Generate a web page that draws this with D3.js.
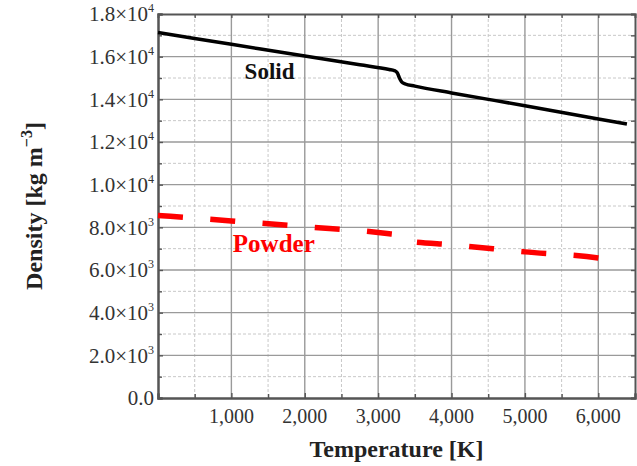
<!DOCTYPE html>
<html lang="en">
<head>
  <meta charset="UTF-8">
  <title>Density vs Temperature</title>
  <script src="https://d3js.org/d3.v7.min.js"></script>
  <style>
    body { margin: 0; background: #fff; }
    text { font-family: "Liberation Serif", "Times New Roman", serif; }
  </style>
</head>
<body>
  <div id="chart"></div>
  <script>
    // data
    const solidT   = [0, 1000, 2000, 2750, 3150, 3220, 3260, 3290, 3320, 3370, 3500, 4000, 5000, 6000, 6390];
    const solidRho = [17130, 16580, 16030, 15620, 15400, 15350, 15250, 15000, 14820, 14720, 14620, 14300, 13700, 13080, 12840];
    const powderT   = [0, 1000, 2000, 3000, 3150, 3220, 3260, 3290, 3320, 3370, 3500, 4000, 5000, 6000, 6070];
    const powderRho = [8560, 8300, 8030, 7760, 7700, 7670, 7620, 7500, 7410, 7360, 7310, 7180, 6850, 6560, 6520];
    const xTicks = [1000, 2000, 3000, 4000, 5000, 6000];
    const yTicks = [0, 2000, 4000, 6000, 8000, 10000, 12000, 14000, 16000, 18000];

    const W = 637, H = 466;
    const margin = { top: 14, right: 2, bottom: 68, left: 158 };
    const width = W - margin.left - margin.right;
    const height = H - margin.top - margin.bottom;

    const svg = d3.select("#chart").append("svg")
      .attr("width", W)
      .attr("height", H);
    const g = svg.append("g").attr("transform", `translate(${margin.left},${margin.top})`);

    const x = d3.scaleLinear().domain([0, 6500]).range([0, width]);
    const y = d3.scaleLinear().domain([0, 18000]).range([height, 0]);

    const xMinor = d3.range(500, 6500, 1000);
    const yMinor = d3.range(1000, 18000, 2000);

    //minor grid
    g.selectAll(".gx-minor").data(xMinor).enter().append("line")
      .attr("x1", d => x(d)).attr("x2", d => x(d))
      .attr("y1", 0).attr("y2", height)
      .attr("stroke", "#c8c8c8").attr("stroke-width", 1).attr("stroke-dasharray", "3,2");
    g.selectAll(".gy-minor").data(yMinor).enter().append("line")
      .attr("x1", 0).attr("x2", width)
      .attr("y1", d => y(d)).attr("y2", d => y(d))
      .attr("stroke", "#c8c8c8").attr("stroke-width", 1).attr("stroke-dasharray", "3,2");

    //major grid
    g.selectAll(".gx").data(xTicks).enter().append("line")
      .attr("x1", d => x(d)).attr("x2", d => x(d))
      .attr("y1", 0).attr("y2", height)
      .attr("stroke", "#9a9a9a").attr("stroke-width", 1.4);
    g.selectAll(".gy").data(yTicks.slice(1, -1)).enter().append("line")
      .attr("x1", 0).attr("x2", width)
      .attr("y1", d => y(d)).attr("y2", d => y(d))
      .attr("stroke", "#9a9a9a").attr("stroke-width", 1.4);

    //axes with inward ticks
    const ax = g.append("g").attr("transform", `translate(0,${height})`)
      .call(d3.axisBottom(x).tickValues(xTicks).tickSize(-5).tickFormat(""));
    const axMinor = g.append("g").attr("transform", `translate(0,${height})`)
      .call(d3.axisBottom(x).tickValues(xMinor).tickSize(-4).tickFormat(""));
    const axTop = g.append("g")
      .call(d3.axisTop(x).tickValues(xTicks.concat(xMinor)).tickSize(-4).tickFormat(""));
    const ay = g.append("g")
      .call(d3.axisLeft(y).tickValues(yTicks).tickSize(-5).tickFormat(""));
    const ayMinor = g.append("g")
      .call(d3.axisLeft(y).tickValues(yMinor).tickSize(-4).tickFormat(""));
    const ayRight = g.append("g").attr("transform", `translate(${width},0)`)
      .call(d3.axisRight(y).tickValues(yTicks.concat(yMinor)).tickSize(-4).tickFormat(""));
    [ax, axMinor, axTop, ay, ayMinor, ayRight].forEach(a => {
      a.select(".domain").attr("stroke", "#555").attr("stroke-width", 2);
      a.selectAll(".tick line").attr("stroke", "#555").attr("stroke-width", 1.4);
    });

    //x tick labels
    g.selectAll(".xlab").data(xTicks).enter().append("text")
      .attr("x", d => x(d))
      .attr("y", height + 25)
      .attr("text-anchor", "middle")
      .attr("font-size", "20px")
      .attr("fill", "#333")
      .text(d => d3.format(",")(d));

    //y tick labels like 1.8x10^4
    yTicks.forEach(v => {
      const t = g.append("text")
        .attr("x", -4)
        .attr("y", y(v))
        .attr("dy", "0.35em")
        .attr("text-anchor", "end")
        .attr("font-size", "21px")
        .attr("fill", "#333");
      if (v === 0) {
        t.text("0.0");
        return;
      }
      const e = v >= 10000 ? 4 : 3;
      t.append("tspan").text((v / Math.pow(10, e)).toFixed(1) + "\u00d710");
      t.append("tspan").attr("font-size", "12px").attr("dy", "-9").text(e);
    });

    //lines
    const line = d3.line().x(d => x(d[0])).y(d => y(d[1])).curve(d3.curveMonotoneX);
    g.append("path")
      .datum(powderT.map((t, i) => [t, powderRho[i]]))
      .attr("d", line)
      .attr("fill", "none")
      .attr("stroke", "#ff0000")
      .attr("stroke-width", 5.5)
      .attr("stroke-dasharray", "25,27.4");
    g.append("path")
      .datum(solidT.map((t, i) => [t, solidRho[i]]))
      .attr("d", line)
      .attr("fill", "none")
      .attr("stroke", "#000")
      .attr("stroke-width", 3.5);

    //series labels
    g.append("text")
      .attr("x", x(1180))
      .attr("y", 65)
      .attr("font-size", "23px")
      .attr("font-weight", "bold")
      .attr("fill", "#111")
      .text("Solid");
    g.append("text")
      .attr("x", x(1020))
      .attr("y", 238)
      .attr("font-size", "25px")
      .attr("font-weight", "bold")
      .attr("fill", "#ff0000")
      .text("Powder");

    //axis titles
    svg.append("text")
      .attr("x", margin.left + width / 2)
      .attr("y", 457)
      .attr("text-anchor", "middle")
      .attr("font-size", "24px")
      .attr("font-weight", "bold")
      .attr("fill", "#222")
      .text("Temperature [K]");
    const yt = svg.append("text")
      .attr("transform", `translate(42, ${margin.top + height / 2}) rotate(-90)`)
      .attr("text-anchor", "middle")
      .attr("font-size", "24px")
      .attr("font-weight", "bold")
      .attr("fill", "#222");
    yt.append("tspan").text("Density [kg m");
    yt.append("tspan").attr("font-size", "16px").attr("dy", "-10").text("\u22123");
    yt.append("tspan").attr("dy", "10").text("]");
  </script>
</body>
</html>
